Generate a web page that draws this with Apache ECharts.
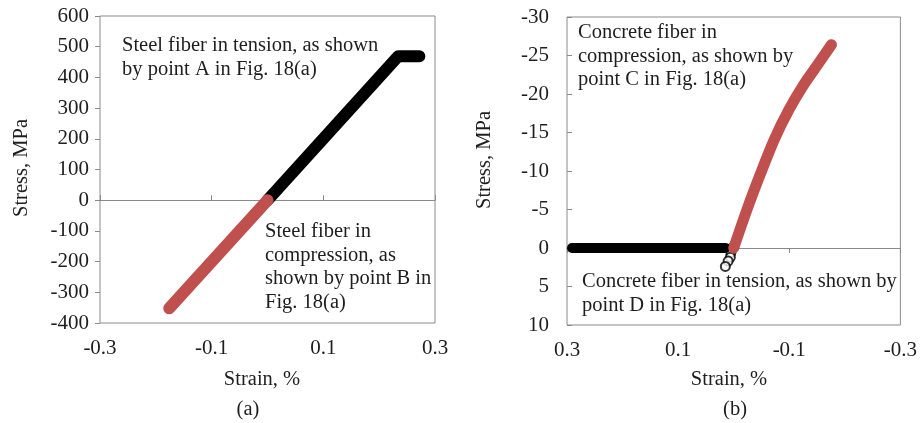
<!DOCTYPE html>
<html>
<head>
<meta charset="utf-8">
<title>Fiber stress-strain histories</title>
<script src="https://cdn.jsdelivr.net/npm/echarts@6/dist/echarts.min.js"></script>
<style>
  html, body { margin: 0; padding: 0; background: #fff; }
  #chart { width: 920px; height: 423px; }
</style>
</head>
<body>
<div id="chart"></div>
<script>
// (a) steel fiber: strain in %, stress in MPa
const steelTensionStrain = [0, 0.234, 0.272];
const steelTensionStress = [0, 469, 469];
const steelCompStrain = [0, -0.176];
const steelCompStress = [0, -352];

// (b) concrete fiber: strain in %, stress in MPa (compression negative)
const concreteCompStrain = [0, -0.024, -0.048, -0.0725, -0.099, -0.126, -0.153, -0.176];
const concreteCompStress = [0, -5.0, -9.6, -14.0, -17.9, -21.2, -24.0, -26.4];
const concreteCrackedStrain = [0.291, 0.015];
const concreteCrackedStress = [0, 0];
const concreteTensionStrain = [0.003, 0.005, 0.006, 0.010, 0.015];
const concreteTensionStress = [0, 0.6, 1.2, 1.7, 2.4];

// axis ticks
const strainTicksA = [-0.3, -0.1, 0.1, 0.3];
const strainTicksB = [0.3, 0.1, -0.1, -0.3];

const pairs = (xs, ys) => xs.map((x, i) => [x, ys[i]]);

const FONT = '"Liberation Serif", "Times New Roman", serif';
const TXT = '#1e1e1e';
const FRAME = '#8a8a8a';
const RED = '#C0504D';
const BAND = 12;

const tickLabel = { fontFamily: FONT, fontSize: 21, color: TXT };

function labelAxis(gridIndex, ticks, inverse) {
  return {
    type: 'value', gridIndex, min: -0.3, max: 0.3, inverse,
    axisLine: { show: false, onZero: false },
    axisTick: { show: false },
    splitLine: { show: false },
    axisLabel: Object.assign({ customValues: ticks, margin: 15 }, tickLabel)
  };
}
function zeroAxis(gridIndex, ticks, inverse, inside) {
  return {
    type: 'value', gridIndex, min: -0.3, max: 0.3, inverse,
    axisLine: { show: true, onZero: true, lineStyle: { color: FRAME, width: 1 } },
    axisTick: { show: true, inside, length: 5, customValues: ticks, lineStyle: { color: FRAME } },
    splitLine: { show: false },
    axisLabel: { show: false }
  };
}

function text(str, x, y, opts) {
  return {
    type: 'text', x, y, rotation: (opts && opts.rotation) || 0, silent: true,
    style: Object.assign({
      text: str, font: '20.5px ' + FONT, fill: TXT,
      align: 'left', verticalAlign: 'top', lineHeight: 23.5
    }, opts && opts.style)
  };
}

const chart = echarts.init(document.getElementById('chart'), null, { renderer: 'canvas' });
chart.setOption({
  animation: false,
  backgroundColor: '#fff',
  grid: [
    { left: 100, top: 16, width: 335, height: 307, show: true, borderColor: FRAME, borderWidth: 1, backgroundColor: 'transparent' },
    { left: 567, top: 17, width: 335, height: 308, show: true, borderColor: FRAME, borderWidth: 1, backgroundColor: 'transparent' }
  ],
  xAxis: [
    labelAxis(0, strainTicksA, false),
    zeroAxis(0, strainTicksA, false, false),
    labelAxis(1, strainTicksB, true),
    zeroAxis(1, strainTicksB, true, true)
  ],
  yAxis: [
    {
      type: 'value', gridIndex: 0, min: -400, max: 600, interval: 100,
      axisLine: { show: false, onZero: false },
      axisTick: { show: true, inside: false, length: 5, lineStyle: { color: FRAME } },
      splitLine: { show: false },
      axisLabel: Object.assign({ margin: 11 }, tickLabel)
    },
    {
      type: 'value', gridIndex: 1, min: -30, max: 10, interval: 5, inverse: true,
      axisLine: { show: false, onZero: false },
      axisTick: { show: true, inside: true, length: 5, lineStyle: { color: FRAME } },
      splitLine: { show: false },
      axisLabel: Object.assign({ margin: 18 }, tickLabel)
    }
  ],
  series: [
    {
      name: 'Steel fiber in tension', type: 'line', xAxisIndex: 0, yAxisIndex: 0,
      data: pairs(steelTensionStrain, steelTensionStress),
      showSymbol: false, silent: true,
      lineStyle: { color: '#000', width: BAND, cap: 'round', join: 'round' }
    },
    {
      name: 'Steel fiber in compression', type: 'line', xAxisIndex: 0, yAxisIndex: 0,
      data: pairs(steelCompStrain, steelCompStress),
      showSymbol: false, silent: true,
      lineStyle: { color: RED, width: BAND, cap: 'round', join: 'round' }
    },
    {
      name: 'Concrete fiber cracked', type: 'line', xAxisIndex: 2, yAxisIndex: 1,
      data: pairs(concreteCrackedStrain, concreteCrackedStress),
      showSymbol: false, silent: true,
      lineStyle: { color: '#000', width: BAND - 2, cap: 'round', join: 'round' }
    },
    {
      name: 'Concrete fiber in compression', type: 'line', xAxisIndex: 2, yAxisIndex: 1,
      data: pairs(concreteCompStrain, concreteCompStress),
      showSymbol: false, silent: true, smooth: 0.3,
      lineStyle: { color: RED, width: BAND - 1, cap: 'round', join: 'round' }
    },
    {
      name: 'Concrete fiber in tension', type: 'scatter', xAxisIndex: 2, yAxisIndex: 1,
      data: pairs(concreteTensionStrain, concreteTensionStress),
      symbol: 'emptyCircle', symbolSize: 9, silent: true,
      itemStyle: { color: '#000', borderColor: '#000', borderWidth: 2.5 }
    }
  ],
  graphic: [
    text('Steel fiber in tension, as shown\nby point A in Fig. 18(a)', 122, 34),
    text('Steel fiber in\ncompression, as\nshown by point B in\nFig. 18(a)', 265, 220),
    text('Concrete fiber in\ncompression, as shown by\npoint C in Fig. 18(a)', 578, 21),
    text('Concrete fiber in tension, as shown by\npoint D in Fig. 18(a)', 582, 270),
    text('Stress, MPa', 22, 168, { rotation: Math.PI / 2, style: { align: 'center', verticalAlign: 'middle' } }),
    text('Stress, MPa', 485, 160, { rotation: Math.PI / 2, style: { align: 'center', verticalAlign: 'middle' } }),
    text('Strain, %', 262, 380, { style: { align: 'center', verticalAlign: 'middle' } }),
    text('Strain, %', 729, 380, { style: { align: 'center', verticalAlign: 'middle' } }),
    text('(a)', 248, 410, { style: { align: 'center', verticalAlign: 'middle' } }),
    text('(b)', 735, 410, { style: { align: 'center', verticalAlign: 'middle' } })
  ]
});
</script>
</body>
</html>
